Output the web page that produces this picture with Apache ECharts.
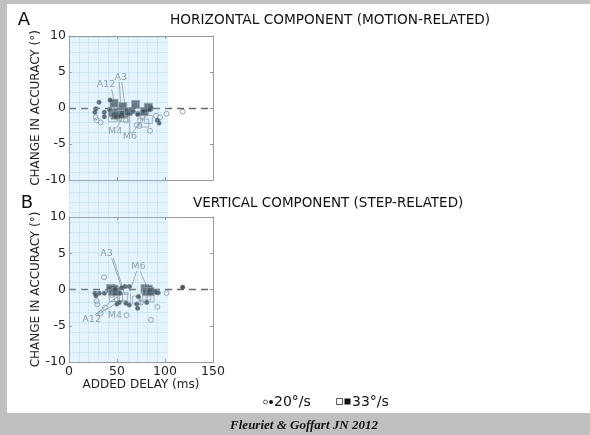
<!DOCTYPE html>
<html><head><meta charset="utf-8">
<script src="https://cdn.jsdelivr.net/npm/echarts@6/dist/echarts.min.js"></script>
<style>html,body{margin:0;padding:0;background:#c0c0c0;}#c{width:590px;height:435px;}</style>
</head><body><div id="c"></div>
<script>
// ---- data (ms, change in accuracy in deg) ----
const xTicks = [0, 50, 100, 150];
const yTicks = [-10, -5, 0, 5, 10];
// Panel A: horizontal component
const hOpen20 = [[27.8,-1.3],[28.8,-1.7],[33,-2.0],[52,-1.5],[59.4,-1.75],[70.5,-2.4],[73.3,-2.5],[74,-1.7],[76.7,-1.2],[84.4,-3.15],[90.6,-1.1],[94.8,-1.3],[101.7,-0.8],[118.4,-0.5]];
const hFill20 = [[31.3,0.8],[28,-0.1],[27,-0.6],[36.8,-0.6],[36.8,-1.2],[42,-0.2],[42.7,1.1],[49,-1.2],[52.4,-1.1],[55,-0.75],[62,-0.75],[67,-0.5],[72,-0.75],[71.5,-0.9],[81,-0.3],[85.4,0.05],[84,-0.2],[92,-1.7],[93.8,-2.1],[77.5,-0.5]];
const hOpen33 = [[45.5,-1.35],[79,-2.1],[82.6,-1.6],[57,-1.3]];
const hFill33 = [[46.9,0.65],[45.5,-0.65],[50.7,-0.65],[56,0.2],[57.6,-0.75],[61.8,-0.5],[69.4,0.5],[78.5,-0.5],[82.6,0.1],[54,-0.9],[48,-1.0]];
const hNoteNames = ['A12','A3','M4','M6'];
const hNotePos = [[38.5,3.2],[53.8,4.3],[48,-3.3],[63.5,-4.0]];
const hLinks = [[[44.5,2.6],[46.9,0.9]],[[52.4,3.65],[53.8,0.65]],[[54.9,3.65],[58.3,0.4]],[[49.7,-2.8],[54.9,-1.6]],[[63.5,-3.5],[62.8,-1.0]],[[65.3,-3.5],[74,-2.1]]];
// Panel B: vertical component
const vOpen20 = [[36.5,1.7],[28.8,-1.6],[29.5,-2.05],[37.5,-2.5],[33,-3.3],[44.5,-0.75],[49.7,-1.45],[60,-3.55],[85.4,-4.2],[92,-2.4],[101.7,-0.5],[75,-1.8]];
const vFill20 = [[27,-0.5],[28,-0.85],[31.6,-0.5],[36.8,-0.5],[42,0.2],[48,0.1],[54.9,0.25],[58.3,0.4],[62.8,0.4],[53.1,-0.5],[50,-2.0],[52.4,-1.8],[59.4,-1.9],[62.8,-2.15],[70.5,-2.0],[72.2,-1.0],[71.5,-2.6],[81,-1.8],[89.6,-0.3],[93,-0.45],[91.3,-0.4],[118.4,0.3]];
const vOpen33 = [[46.2,-1.1],[51.4,-1.1],[56.6,-1.0],[70.5,-1.45],[77.4,-1.15],[84.4,-1.15],[81,-0.9],[60,-1.2]];
const vFill33 = [[43.4,0.15],[46.9,0.05],[45.5,-0.3],[49,-0.3],[79.2,0.15],[82.6,0.05],[80.9,-0.3],[84.4,-0.3]];
const vNoteNames = ['A3','M6','A12','M4'];
const vNotePos = [[39.2,4.9],[72.2,3.15],[23.6,-4.1],[47.9,-3.6]];
const vLinks = [[[44.5,4.3],[54.9,0.15]],[[46.2,4.3],[58.3,-0.75]],[[70.5,2.55],[63.5,-0.3]],[[74,2.55],[82.6,-0.05]],[[27,-3.5],[47.9,-1.2]],[[28.8,-3.5],[49.7,-1.9]]];
const titles = ['HORIZONTAL COMPONENT (MOTION-RELATED)', 'VERTICAL COMPONENT (STEP-RELATED)'];
const legendLabels = ['20°/s', '33°/s'];
const yName = 'CHANGE IN ACCURACY (°)';
const xName = 'ADDED DELAY (ms)';
const caption = 'Fleuriet & Goffart JN 2012';

const FONT = 'DejaVu Sans';
const chart = echarts.init(document.getElementById('c'));

const FRAME = '#999';
const xAxes = [
  {gridIndex: 0, type: 'value', min: 0, max: 100, interval: 10, z: 11,
   axisLine: {show: false}, axisTick: {show: false}, axisLabel: {show: false},
   splitLine: {show: true, lineStyle: {color: 'rgba(110,185,240,0.20)', width: 1}}}
];
const yAxes = [
  {gridIndex: 0, type: 'value', min: 0, max: 325, interval: 10, z: 11,
   axisLine: {show: false}, axisTick: {show: false}, axisLabel: {show: false},
   splitLine: {show: true, lineStyle: {color: 'rgba(110,185,240,0.20)', width: 1}}}
];
[1, 2].forEach(gi => {
  const bottomLabels = gi === 2;
  xAxes.push({gridIndex: gi, type: 'value', position: 'bottom', min: xTicks[0], max: xTicks[xTicks.length-1], interval: 50, z: 3,
    axisLine: {show: true, onZero: false, lineStyle: {color: FRAME}},
    axisTick: {show: true, inside: true, length: 3, lineStyle: {color: FRAME}},
    splitLine: {show: false},
    axisLabel: {show: bottomLabels, color: '#222', fontFamily: FONT, fontSize: 12.5, margin: 3},
    name: bottomLabels ? xName : '', nameLocation: 'middle', nameGap: 15,
    nameTextStyle: {color: '#222', fontFamily: FONT, fontSize: 12}});
  xAxes.push({gridIndex: gi, type: 'value', position: 'top', min: 0, max: 150, interval: 50, z: 3,
    axisLine: {show: true, onZero: false, lineStyle: {color: FRAME}},
    axisTick: {show: true, inside: true, length: 3, lineStyle: {color: FRAME}},
    splitLine: {show: false}, axisLabel: {show: false}});
  yAxes.push({gridIndex: gi, type: 'value', position: 'left', min: yTicks[0], max: yTicks[yTicks.length-1], interval: 5, z: 3,
    axisLine: {show: true, onZero: false, lineStyle: {color: FRAME}},
    axisTick: {show: true, inside: true, length: 3, lineStyle: {color: FRAME}},
    splitLine: {show: false},
    axisLabel: {color: '#222', fontFamily: FONT, fontSize: 12.5, margin: 3},
    name: yName, nameLocation: 'middle', nameGap: 18, nameRotate: 90,
    nameTextStyle: {color: '#222', fontFamily: FONT, fontSize: 12}});
  yAxes.push({gridIndex: gi, type: 'value', position: 'right', min: -10, max: 10, interval: 5, z: 3,
    axisLine: {show: true, onZero: false, lineStyle: {color: FRAME}},
    axisTick: {show: true, inside: true, length: 3, lineStyle: {color: FRAME}},
    splitLine: {show: false}, axisLabel: {show: false}});
});
// axis indices: panel A -> x 1, y 1 ; panel B -> x 3, y 3

const dash = {silent: true, symbol: ['none','none'], label: {show: false},
  lineStyle: {type: [7,5], color: '#6a6a6a', width: 1.3}, data: [{yAxis: 0}]};

function panelSeries(xi, yi, open20, fill20, open33, fill33, names, pos, links) {
  return [
    {type: 'lines', coordinateSystem: 'cartesian2d', xAxisIndex: xi, yAxisIndex: yi, z: 2,
     lineStyle: {color: '#9a9a9a', width: 0.9, opacity: 1},
     data: links.map(l => ({coords: l}))},
    {type: 'scatter', xAxisIndex: xi, yAxisIndex: yi, data: open20, symbol: 'circle', symbolSize: 5, z: 3,
     itemStyle: {color: 'rgba(255,255,255,0)', borderColor: '#888', borderWidth: 1}, markLine: dash},
    {type: 'scatter', xAxisIndex: xi, yAxisIndex: yi, data: open33, symbol: 'rect', symbolSize: 8, z: 3,
     itemStyle: {color: 'rgba(255,255,255,0)', borderColor: '#999', borderWidth: 1}},
    {type: 'scatter', xAxisIndex: xi, yAxisIndex: yi, data: fill33, symbol: 'rect', symbolSize: 8, z: 4,
     itemStyle: {color: '#3a3a3a', borderColor: '#999', borderWidth: 1}},
    {type: 'scatter', xAxisIndex: xi, yAxisIndex: yi, data: fill20, symbol: 'circle', symbolSize: 4.5, z: 4,
     itemStyle: {color: '#222', borderColor: '#777', borderWidth: 0.6}},
    {type: 'scatter', xAxisIndex: xi, yAxisIndex: yi, symbolSize: 1, z: 5,
     itemStyle: {color: 'rgba(0,0,0,0)'},
     label: {show: true, position: 'inside', formatter: p => p.name, color: '#777', fontFamily: FONT, fontSize: 9.5},
     data: names.map((n, i) => ({name: n, value: pos[i]}))}
  ];
}

const option = {
  backgroundColor: '#c0c0c0',
  animation: false,
  grid: [
    {left: 69, top: 37, width: 98, height: 325, show: true, z: 10,
     backgroundColor: 'rgba(140,205,245,0.22)', borderWidth: 0},
    {left: 69, top: 36, width: 144, height: 144, show: false},
    {left: 69, top: 217, width: 144, height: 145, show: false}
  ],
  xAxis: xAxes,
  yAxis: yAxes,
  graphic: [
    {type: 'rect', z: -10, silent: true, shape: {x: 7, y: 4, width: 583, height: 409}, style: {fill: '#fff'}},
    {type: 'text', x: 24, y: 20, style: {text: 'A', font: '18px "DejaVu Sans"', fill: '#111', align: 'center', verticalAlign: 'middle'}},
    {type: 'text', x: 170, y: 20, style: {text: titles[0], font: '13.7px "DejaVu Sans"', fill: '#111', align: 'left', verticalAlign: 'middle'}},
    {type: 'text', x: 27, y: 203, style: {text: 'B', font: '18px "DejaVu Sans"', fill: '#111', align: 'center', verticalAlign: 'middle'}},
    {type: 'text', x: 193, y: 203.5, style: {text: titles[1], font: '13.5px "DejaVu Sans"', fill: '#111', align: 'left', verticalAlign: 'middle'}},
    // legend glyphs
    {type: 'circle', shape: {cx: 265.5, cy: 402, r: 2}, style: {fill: 'none', stroke: '#333', lineWidth: 0.8}},
    {type: 'circle', shape: {cx: 271, cy: 402, r: 2}, style: {fill: '#111'}},
    {type: 'text', x: 274, y: 402, style: {text: legendLabels[0], font: '14px "DejaVu Sans"', fill: '#111', align: 'left', verticalAlign: 'middle'}},
    {type: 'rect', shape: {x: 336.5, y: 398.5, width: 6, height: 6}, style: {fill: 'none', stroke: '#333', lineWidth: 0.8}},
    {type: 'rect', shape: {x: 344.5, y: 398.5, width: 6, height: 6}, style: {fill: '#111'}},
    {type: 'text', x: 352, y: 402, style: {text: legendLabels[1], font: '14px "DejaVu Sans"', fill: '#111', align: 'left', verticalAlign: 'middle'}},
    {type: 'text', x: 304, y: 426, style: {text: caption, font: 'italic bold 13px "Liberation Serif"', fill: '#111', align: 'center', verticalAlign: 'middle'}}
  ],
  series: [
    ...panelSeries(1, 1, hOpen20, hFill20, hOpen33, hFill33, hNoteNames, hNotePos, hLinks),
    ...panelSeries(3, 3, vOpen20, vFill20, vOpen33, vFill33, vNoteNames, vNotePos, vLinks)
  ]
};
chart.setOption(option);
</script>
</body></html>
